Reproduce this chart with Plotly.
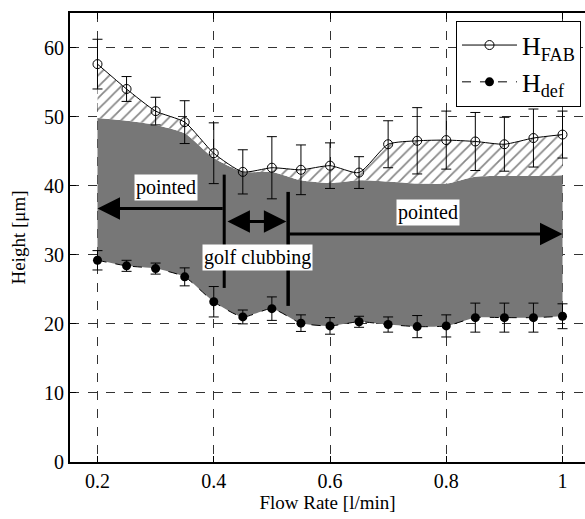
import plotly.graph_objects as go

flow = [0.2, 0.25, 0.3, 0.35, 0.4, 0.45, 0.5, 0.55, 0.6, 0.65, 0.7, 0.75, 0.8, 0.85, 0.9, 0.95, 1.0]
h_fab = [57.6, 54.0, 50.8, 49.2, 44.7, 42.0, 42.6, 42.3, 42.9, 41.9, 46.0, 46.5, 46.6, 46.4, 46.0, 46.9, 47.4]
h_fab_err = [3.6, 1.8, 2.0, 3.1, 4.4, 3.2, 4.5, 3.6, 3.3, 2.3, 3.4, 4.8, 4.2, 4.2, 3.9, 4.2, 3.4]
h_def = [29.2, 28.4, 28.0, 26.8, 23.2, 21.0, 22.2, 20.1, 19.7, 20.3, 19.9, 19.6, 19.7, 20.9, 20.9, 20.9, 21.1]
h_def_err = [1.4, 0.8, 0.8, 1.3, 2.2, 1.0, 1.7, 1.2, 1.2, 0.8, 1.1, 1.6, 1.6, 2.1, 2.1, 2.1, 1.8]
h_core = [49.8, 49.4, 48.8, 47.6, 44.0, 42.0, 42.0, 40.8, 40.4, 40.8, 40.6, 40.3, 40.3, 41.3, 41.4, 41.4, 41.5]

# regime boundaries and labels
bound_1 = 0.418
bound_2 = 0.528
labels = ["pointed", "golf clubbing", "pointed"]

FONT = "Liberation Serif, Times New Roman, serif"

fig = go.Figure()

# gray region between H_def and core line
fig.add_trace(go.Scatter(x=flow, y=h_def, mode="lines", line=dict(width=0, shape="spline", smoothing=0.6),
                         showlegend=False, hoverinfo="skip"))
fig.add_trace(go.Scatter(x=flow, y=h_core, mode="lines", line=dict(width=0, shape="spline", smoothing=0.6),
                         fill="tonexty", fillcolor="#777777", showlegend=False, hoverinfo="skip"))
# hatched region between core and H_FAB
fig.add_trace(go.Scatter(x=flow, y=h_fab, mode="lines", line=dict(width=0, shape="spline", smoothing=0.6),
                         fill="tonexty", fillcolor="white",
                         fillpattern=dict(shape="/", fgcolor="#111111", bgcolor="white", size=8, solidity=0.22),
                         showlegend=False, hoverinfo="skip"))

fig.add_trace(go.Scatter(
    x=flow, y=h_fab, mode="lines+markers", name="H<sub>FAB</sub>",
    line=dict(color="black", width=1, shape="spline", smoothing=0.6),
    marker=dict(symbol="circle-open", size=9, color="black", line=dict(width=1, color="black")),
    error_y=dict(type="data", array=h_fab_err, color="black", thickness=1, width=5),
))
fig.add_trace(go.Scatter(
    x=flow, y=h_def, mode="lines+markers", name="H<sub>def</sub>",
    line=dict(color="black", width=1, dash="dash", shape="spline", smoothing=0.6),
    marker=dict(symbol="circle", size=9, color="black"),
    error_y=dict(type="data", array=h_def_err, color="black", thickness=1, width=5),
))

# vertical regime boundary lines
fig.add_shape(type="line", x0=bound_1, x1=bound_1, y0=25.2, y1=41.6, xref="x", yref="y",
              line=dict(color="black", width=3), layer="above")
fig.add_shape(type="line", x0=bound_2, x1=bound_2, y0=22.6, y1=39.1, xref="x", yref="y",
              line=dict(color="black", width=3.5), layer="above")

# arrows
arrow_common = dict(xref="x", yref="y", axref="x", ayref="y", text="", showarrow=True,
                    arrowcolor="black", arrowwidth=3, arrowsize=1.5, arrowhead=2, standoff=0)
fig.add_annotation(x=flow[0], y=36.7, ax=bound_1, ay=36.7, **arrow_common)
fig.add_annotation(x=flow[-1], y=33.0, ax=bound_2, ay=33.0, **arrow_common)
fig.add_annotation(x=bound_2 - 0.003, y=34.8, ax=bound_1 + 0.003, ay=34.8, arrowside="end+start",
                   startarrowhead=2, startarrowsize=1.5, startstandoff=0, **arrow_common)

# text labels
lab_font = dict(family=FONT, size=20, color="black")
fig.add_annotation(x=0.318, y=39.7, text=labels[0], showarrow=False, bgcolor="white", font=lab_font, borderpad=1)
fig.add_annotation(x=0.475, y=29.6, text=labels[1], showarrow=False, bgcolor="white", font=lab_font, borderpad=1)
fig.add_annotation(x=0.769, y=36.1, text=labels[2], showarrow=False, bgcolor="white", font=lab_font, borderpad=1)

fig.update_layout(
    width=585, height=519,
    margin=dict(l=70, r=0, t=13, b=57),
    plot_bgcolor="white", paper_bgcolor="white",
    font=dict(family=FONT, size=20, color="black"),
    legend=dict(x=0.7495, y=0.983, xanchor="left", yanchor="top", bgcolor="white",
                bordercolor="black", borderwidth=1, font=dict(family=FONT, size=26),
                traceorder="normal", tracegroupgap=0, itemwidth=55),
)
fig.update_xaxes(
    range=[0.1527, 1.0387], tickvals=[0.2, 0.4, 0.6, 0.8, 1.0], ticktext=["0.2", "0.4", "0.6", "0.8", "1"],
    showline=True, linecolor="black", linewidth=2, mirror="ticks",
    ticks="inside", ticklen=6, tickcolor="black",
    showgrid=True, gridcolor="#333333", griddash="dash", gridwidth=1, zeroline=False,
    title=dict(text="Flow Rate [l/min]", standoff=4, font=dict(size=19)),
)
fig.update_yaxes(
    range=[0, 65], tickvals=[0, 10, 20, 30, 40, 50, 60],
    showline=True, linecolor="black", linewidth=2,
    ticks="inside", ticklen=6, tickcolor="black",
    showgrid=True, gridcolor="#333333", griddash="dash", gridwidth=1, zeroline=False,
    title=dict(text="Height [μm]", standoff=13, font=dict(size=19)),
)

fig.write_html("out.html")
